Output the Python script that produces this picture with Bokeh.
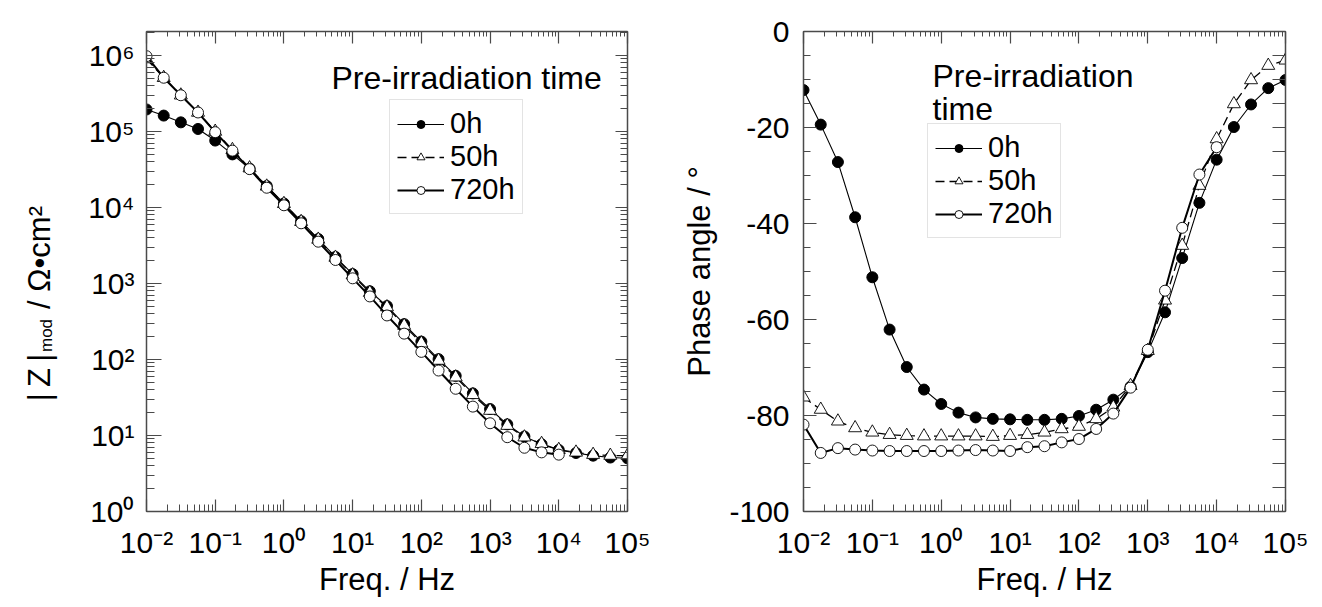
import math
from bokeh.plotting import figure
from bokeh.models import (LogAxis, LinearAxis, LogTicker, SingleIntervalTicker, Range1d,
                          Legend, LegendItem, Label, CustomJSTickFormatter,
                          CustomLabelingPolicy)
from bokeh.core.properties import value
from bokeh.layouts import row
from bokeh.embed import file_html
from bokeh.resources import INLINE

# Measurement frequencies (Hz), 4 points per decade
freq = [1.00e-2, 1.78e-2, 3.16e-2, 5.62e-2,
        1.00e-1, 1.78e-1, 3.16e-1, 5.62e-1,
        1.00e0, 1.78e0, 3.16e0, 5.62e0,
        1.00e1, 1.78e1, 3.16e1, 5.62e1,
        1.00e2, 1.78e2, 3.16e2, 5.62e2,
        1.00e3, 1.78e3, 3.16e3, 5.62e3,
        1.00e4, 1.78e4, 3.16e4, 5.62e4,
        1.00e5]

# |Z|mod in ohm cm^2
zmod_0h = [1.95e5, 1.62e5, 1.32e5, 1.08e5, 7.6e4, 5.0e4, 3.25e4, 1.92e4,
           1.13e4, 6.6e3, 3.85e3, 2.24e3, 1.33e3, 790, 505, 292, 172, 101,
           61.0, 35.8, 22.3, 14.0, 9.7, 7.67, 6.46, 5.89, 5.43, 5.13, 5.01]
zmod_50h = [9.0e5, 5.1e5, 3.0e5, 1.78e5, 1.0e5, 5.75e4, 3.3e4, 1.9e4,
            1.12e4, 6.5e3, 3.8e3, 2.2e3, 1.29e3, 759, 490, 280, 164, 97,
            58.5, 34.3, 21.3, 13.5, 9.5, 7.8, 6.5, 6.0, 5.6, 5.45, 5.45]
zmod_720h = [9.8e5, 5.1e5, 3.0e5, 1.78e5, 9.8e4, 5.6e4, 3.2e4, 1.82e4,
             1.07e4, 6.2e3, 3.55e3, 2.04e3, 1.17e3, 676, 380, 219, 126, 71.6,
             41.2, 24.0, 14.5, 9.5, 6.9, 6.0, 5.6]

# Phase angle in degrees
phase_0h = [-12.2, -19.4, -27.2, -38.7, -51.2, -62.1, -69.9, -74.6, -77.6,
            -79.4, -80.4, -80.7, -80.8, -80.9, -80.9, -80.7, -80.1, -78.8,
            -76.7, -74.0, -66.8, -58.5, -47.2, -35.7, -26.7, -19.9, -15.2,
            -11.8, -10.1]
phase_50h = [-76.2, -78.75, -81.2, -82.6, -83.5, -84.0, -84.2, -84.3, -84.3,
             -84.3, -84.3, -84.4, -84.2, -84.0, -83.5, -82.8, -82.3, -80.7,
             -78.3, -73.8, -66.5, -56.0, -44.6, -32.1, -22.4, -15.1, -10.1,
             -7.1, -6.0]
phase_720h = [-81.9, -87.8, -86.8, -87.1, -87.3, -87.4, -87.4, -87.4, -87.4,
              -87.3, -87.2, -87.3, -87.4, -86.6, -86.4, -85.6, -84.9, -82.8,
              -79.6, -74.2, -66.3, -54.0, -40.9, -29.8, -24.1]

series_names = ["0h", "50h", "720h"]
legend_title = "Pre-irradiation time"
legend_title_lines = ["Pre-irradiation", "time"]

FONT = "Liberation Sans"
AXIS_COLOR = "#4a4a4a"

pow10 = CustomJSTickFormatter(code="""
const sup = {"-": "\u207b", "0": "\u2070", "1": "\u00b9", "2": "\u00b2", "3": "\u00b3",
             "4": "\u2074", "5": "\u2075", "6": "\u2076", "7": "\u2077", "8": "\u2078", "9": "\u2079"};
const e = Math.round(Math.log10(tick));
return "10" + String(e).split("").map(c => sup[c]).join("");
""")
plain_int = CustomJSTickFormatter(code="return tick.toFixed(0);")

# mirrored axes carry ticks only
no_labels = CustomLabelingPolicy(code="""
try { for (const i of Array.from(indices)) indices.unset(i); } catch (e) {}
return indices;
""")


def style_axis(ax, major_in=13, minor_in=7, labels=True, standoff=12):
    ax.axis_line_color = AXIS_COLOR
    ax.axis_line_width = 1.5
    ax.major_tick_line_color = AXIS_COLOR
    ax.minor_tick_line_color = AXIS_COLOR
    ax.major_tick_line_width = 1.2
    ax.minor_tick_line_width = 1.0
    ax.major_tick_in = major_in
    ax.major_tick_out = 0
    ax.minor_tick_in = minor_in
    ax.minor_tick_out = 0
    ax.axis_label_text_color = "black"
    if labels:
        ax.major_label_text_font = FONT
        ax.major_label_text_font_size = "30px"
        ax.major_label_text_color = "black"
        ax.major_label_standoff = standoff
    else:
        ax.major_label_policy = no_labels
        ax.major_label_text_font_size = "0px"
        ax.major_label_standoff = 0
        ax.axis_label = None


def base_figure(x_range, y_range, y_log, frame_w, border_l, border_r):
    p = figure(x_axis_type="log", y_axis_type="log" if y_log else "linear",
               x_range=x_range, y_range=y_range,
               frame_width=frame_w, frame_height=480,
               min_border_left=border_l, min_border_right=border_r,
               min_border_top=31, min_border_bottom=96,
               output_backend="svg", toolbar_location=None)
    p.grid.visible = False
    p.outline_line_color = None
    p.background_fill_color = "white"
    p.border_fill_color = "white"
    return p


def add_series(p, xs0, ys0, xs1, ys1, xs2, ys2):
    l0 = p.line(xs0, ys0, line_color="black", line_width=1.1)
    m0 = p.scatter(xs0, ys0, marker="circle", size=11, fill_color="black",
                   line_color="black", line_width=1)
    l1 = p.line(xs1, ys1, line_color="black", line_width=1.3, line_dash="9 5")
    m1 = p.scatter(xs1, ys1, marker="triangle", size=13, fill_color="white",
                   line_color="black", line_width=0.9)
    l2 = p.line(xs2, ys2, line_color="black", line_width=2)
    m2 = p.scatter(xs2, ys2, marker="circle", size=11, fill_color="white",
                   line_color="black", line_width=0.9)
    return [[l0, m0], [l1, m1], [l2, m2]]


def add_legend(p, groups, loc):
    items = [LegendItem(label=name, renderers=g) for name, g in zip(series_names, groups)]
    leg = Legend(items=items, location=loc, orientation="vertical",
                 label_text_font=FONT, label_text_font_size="29px",
                 label_text_color="black", glyph_width=47, glyph_height=20,
                 label_height=20, label_standoff=6, spacing=-2, padding=7,
                 margin=0, border_line_color="#c8c8c8", border_line_width=1,
                 background_fill_color="white", background_fill_alpha=1)
    p.add_layout(leg)


def text_label(p, x, y, txt, size):
    p.add_layout(Label(x=x, y=y, x_units="screen", y_units="screen", text=txt,
                       text_align="left", text_baseline="alphabetic",
                       text_font=FONT, text_font_size=size, text_color="black"))


# ---------------- y title strip for the modulus plot ----------------
LAB_W = 75
lab = figure(title=None, frame_width=LAB_W, frame_height=607,
             x_range=Range1d(0, LAB_W), y_range=Range1d(0, 607),
             x_axis_location=None, y_axis_location=None,
             min_border=0, output_backend="svg", toolbar_location=None)
lab.grid.visible = False
lab.outline_line_color = None
rot = math.pi / 2
# |Z|mod / Ω•cm², assembled from pieces reading upward (centre-anchored)
title_pieces = [("|\u2009Z\u2009|", 39, 607 - 346, "31px"),
                ("mod", 46, 607 - 304, "17px"),
                ("/ \u03a9\u2022cm\u00b2", 39, 607 - 226, "31px")]
for txt, tx, ty, sz in title_pieces:
    lab.text(x=[tx], y=[ty], text=[txt], angle=rot, text_align="center",
             text_baseline="middle", text_font=value(FONT), text_font_size=sz,
             text_color="black")

# ---------------- impedance modulus ----------------
p1 = base_figure(Range1d(1e-2, 1e5), Range1d(1, 2.07e6), True, 481, 146 - LAB_W, 30)
for ax in p1.xaxis + p1.yaxis:
    ax.ticker = LogTicker(num_minor_ticks=10)
    ax.formatter = pow10
style_axis(p1.xaxis[0], major_in=12, minor_in=7, standoff=14)
style_axis(p1.yaxis[0], major_in=15, minor_in=8, standoff=12)
p1.xaxis[0].axis_label = "Freq. / Hz"
p1.xaxis[0].axis_label_text_font = FONT
p1.xaxis[0].axis_label_text_font_size = "31px"
p1.xaxis[0].axis_label_text_font_style = "normal"
p1.xaxis[0].axis_label_standoff = 0
top1 = LogAxis(ticker=LogTicker(num_minor_ticks=10), formatter=pow10)
right1 = LogAxis(ticker=LogTicker(num_minor_ticks=10), formatter=pow10)
style_axis(top1, major_in=12, minor_in=5, labels=False)
style_axis(right1, major_in=12, minor_in=7, labels=False)
p1.add_layout(top1, "above")
p1.add_layout(right1, "right")

g1 = add_series(p1, freq, zmod_0h, freq, zmod_50h, freq[:len(zmod_720h)], zmod_720h)
add_legend(p1, g1, (243, 297))
text_label(p1, 185, 434, legend_title, "32px")

# ---------------- phase angle ----------------
p2 = base_figure(Range1d(1e-2, 1e5), Range1d(-100, 0), False, 482, 146, 37)
p2.xaxis[0].ticker = LogTicker(num_minor_ticks=10)
p2.xaxis[0].formatter = pow10
p2.yaxis[0].ticker = SingleIntervalTicker(interval=20, num_minor_ticks=4)
p2.yaxis[0].formatter = plain_int
style_axis(p2.xaxis[0], major_in=12, minor_in=7, standoff=14)
style_axis(p2.yaxis[0], major_in=13, minor_in=7, standoff=14)
p2.xaxis[0].axis_label = "Freq. / Hz"
p2.yaxis[0].axis_label = "Phase angle / \u00b0"
for ax in (p2.xaxis[0], p2.yaxis[0]):
    ax.axis_label_text_font = FONT
    ax.axis_label_text_font_size = "31px"
    ax.axis_label_text_font_style = "normal"
p2.xaxis[0].axis_label_standoff = 0
p2.yaxis[0].axis_label_standoff = 9
top2 = LogAxis(ticker=LogTicker(num_minor_ticks=10), formatter=pow10)
right2 = LinearAxis(ticker=SingleIntervalTicker(interval=5, num_minor_ticks=0))
style_axis(top2, major_in=12, minor_in=5, labels=False)
style_axis(right2, major_in=13, minor_in=7, labels=False)
p2.add_layout(top2, "above")
p2.add_layout(right2, "right")

g2 = add_series(p2, freq, phase_0h, freq, phase_50h, freq[:len(phase_720h)], phase_720h)
add_legend(p2, g2, (124, 273))
text_label(p2, 129, 436, legend_title_lines[0], "32px")
text_label(p2, 129, 403, legend_title_lines[1], "32px")

layout = row(lab, p1, p2)
open("out.html", "w", encoding="utf-8").write(file_html(layout, INLINE))
